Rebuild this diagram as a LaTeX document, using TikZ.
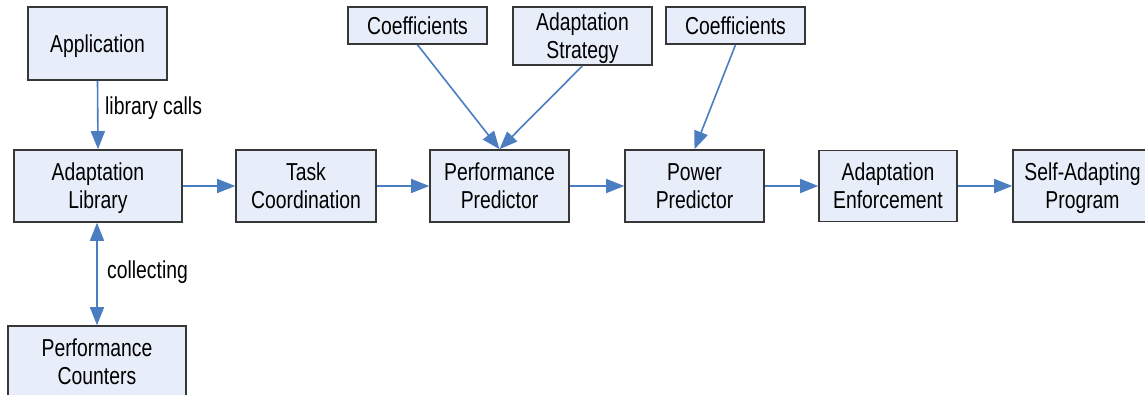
\documentclass[tikz,border=0pt]{standalone}
\usepackage{fontspec}
\setmainfont{Liberation Sans}[FakeStretch=0.79]
\usetikzlibrary{arrows.meta}
\definecolor{boxfill}{RGB}{232,238,249}
\definecolor{boxline}{RGB}{55,55,55}
\definecolor{flow}{RGB}{74,126,193}
\tikzset{
  block/.style={draw=boxline, fill=boxfill, line width=1.6pt, inner sep=0pt,
    align=center, font=\fontsize{24.5}{28}\selectfont, text depth=0pt},
  conn/.style={draw=flow, line width=1.6pt, -{Triangle[length=18pt,width=14pt]}},
  lbl/.style={font=\fontsize{24.5}{28}\selectfont, anchor=west, inner sep=0pt}
}
\begin{document}
\begin{tikzpicture}[x=1pt,y=-1pt]
\clip (0,0) rectangle (1145,395);
\fill[white] (0,0) rectangle (1145,395);

% processing chain
\node[block, minimum width=139pt, minimum height=73pt] (app) at (97.5,43.5) {Application};
\node[block, minimum width=168pt, minimum height=72pt] (lib) at (98,186) {Adaptation\\Library};
\node[block, minimum width=140pt, minimum height=72pt] (task) at (306,186) {Task\\Coordination};
\node[block, minimum width=139pt, minimum height=72pt] (perf) at (499.5,186) {Performance\\Predictor};
\node[block, minimum width=139pt, minimum height=72pt] (power) at (694.5,186) {Power\\Predictor};
\node[block, minimum width=138pt, minimum height=71pt] (enf) at (888,186) {Adaptation\\Enforcement};
\node[block, minimum width=139pt, minimum height=72pt] (self) at (1082.5,186) {Self-Adapting\\Program};
\node[block, minimum width=178pt, minimum height=72pt] (ctr) at (97,362) {Performance\\Counters};

% inputs to the predictors
\node[block, minimum width=139pt, minimum height=37pt] (coefA) at (417.5,25.5) {Coefficients};
\node[block, minimum width=139pt, minimum height=58pt] (strat) at (582.5,36) {Adaptation\\Strategy};
\node[block, minimum width=139pt, minimum height=37pt] (coefB) at (735.5,25.5) {Coefficients};

% connectors
\draw[conn] (app.south) -- (lib.north);
\draw[conn, {Triangle[length=18pt,width=14pt]}-{Triangle[length=18pt,width=14pt]}]
  (lib.south -| ctr.north) -- (ctr.north);
\draw[conn] (lib.east) -- (task.west);
\draw[conn] (task.east) -- (perf.west);
\draw[conn] (perf.east) -- (power.west);
\draw[conn] (power.east) -- (enf.west);
\draw[conn] (enf.east) -- (self.west);
\draw[conn] (coefA.south) -- (perf.north);
\draw[conn] (strat.south) -- (perf.north);
\draw[conn] (coefB.south) -- (power.north);

% edge labels
\node[lbl] (lcalls) at (105,108) {library calls};
\node[lbl] (lcoll) at (107,272) {collecting};
\end{tikzpicture}
\end{document}
